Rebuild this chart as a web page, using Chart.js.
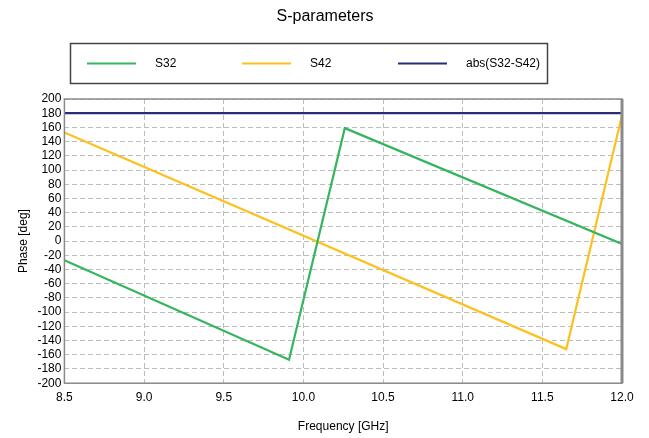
<!DOCTYPE html>
<html>
<head>
<meta charset="utf-8">
<script src="https://cdn.jsdelivr.net/npm/chart.js@4/dist/chart.umd.min.js"></script>
<style>
  html, body { margin: 0; padding: 0; background: #fff; }
  #wrap { width: 649px; height: 438px; }
</style>
</head>
<body>
<div id="wrap"><canvas id="grafico"></canvas></div>
<script>
const nomesSeries = ['S32', 'S42', 'abs(S32-S42)'];
const freqS32 = [8.5, 9.91, 10.26, 12.0];
const faseS32 = [-27, -167, 159, -4];
const freqS42 = [8.5, 11.65, 12.0];
const faseS42 = [153, -152, 177];
const freqAbs = [8.5, 12.0];
const faseAbs = [180, 180];
const coresSeries = ['#35b55f', '#fdc11f', '#2a2c78'];

const fonte = 'Liberation Sans, Arial, sans-serif';

function pontos(xs, ys) {
  return xs.map((x, i) => ({ x: x, y: ys[i] }));
}

// titulo, legenda com moldura e quadro do grafico
const extras = {
  id: 'extras',
  afterDraw(chart) {
    const ctx = chart.ctx;
    const area = chart.chartArea;
    ctx.save();
    ctx.fillStyle = '#000';
    ctx.font = '16px ' + fonte;
    ctx.textAlign = 'center';
    ctx.textBaseline = 'middle';
    ctx.fillText('S-parameters', 325, 17);

    ctx.strokeStyle = '#444';
    ctx.lineWidth = 1.5;
    ctx.strokeRect(70.5, 43.5, 477, 40);

    ctx.font = '12px ' + fonte;
    ctx.textAlign = 'left';
    const inicio = [87, 242, 398];
    chart.data.datasets.forEach((ds, i) => {
      ctx.strokeStyle = ds.borderColor;
      ctx.lineWidth = 2;
      ctx.beginPath();
      ctx.moveTo(inicio[i], 63.5);
      ctx.lineTo(inicio[i] + 49, 63.5);
      ctx.stroke();
      ctx.fillStyle = '#000';
      ctx.fillText(ds.label, inicio[i] + 68, 64);
    });

    ctx.strokeStyle = '#8a8a8a';
    ctx.lineWidth = 1.5;
    ctx.strokeRect(area.left, area.top, area.right - area.left, area.bottom - area.top);
    ctx.lineWidth = 3;
    ctx.beginPath();
    ctx.moveTo(area.right, area.top);
    ctx.lineTo(area.right, area.bottom);
    ctx.stroke();
    ctx.restore();
  }
};

new Chart(document.getElementById('grafico'), {
  type: 'scatter',
  data: {
    datasets: [
      { label: nomesSeries[0], data: pontos(freqS32, faseS32), borderColor: coresSeries[0] },
      { label: nomesSeries[1], data: pontos(freqS42, faseS42), borderColor: coresSeries[1] },
      { label: nomesSeries[2], data: pontos(freqAbs, faseAbs), borderColor: coresSeries[2] }
    ].map(ds => Object.assign(ds, {
      showLine: true, borderWidth: 2.2, pointRadius: 0, fill: false, tension: 0,
      backgroundColor: ds.borderColor
    }))
  },
  plugins: [extras],
  options: {
    responsive: true,
    maintainAspectRatio: false,
    animation: false,
    layout: { padding: { top: 99, right: 27, left: 12, bottom: 0 } },
    plugins: {
      legend: { display: false },
      title: { display: false },
      tooltip: { enabled: false }
    },
    scales: {
      x: {
        type: 'linear',
        min: 8.5,
        max: 12.0,
        ticks: {
          stepSize: 0.5,
          color: '#000',
          font: { family: fonte, size: 12 },
          padding: 7,
          callback: v => v.toFixed(1)
        },
        grid: { color: '#bdbdbd', lineWidth: 1, drawTicks: false },
        border: { display: false, dash: [5, 3] },
        title: { display: true, text: 'Frequency [GHz]', color: '#000', font: { family: fonte, size: 12 }, padding: { top: 8 } }
      },
      y: {
        min: -200,
        max: 200,
        ticks: {
          stepSize: 20,
          color: '#000',
          font: { family: fonte, size: 12 },
          padding: 3,
          autoSkip: false
        },
        grid: { color: '#bdbdbd', lineWidth: 1, drawTicks: false },
        border: { display: false, dash: [5, 3] },
        title: { display: true, text: 'Phase [deg]', color: '#000', font: { family: fonte, size: 12 }, padding: { bottom: 4 } }
      }
    }
  }
});
</script>
</body>
</html>
